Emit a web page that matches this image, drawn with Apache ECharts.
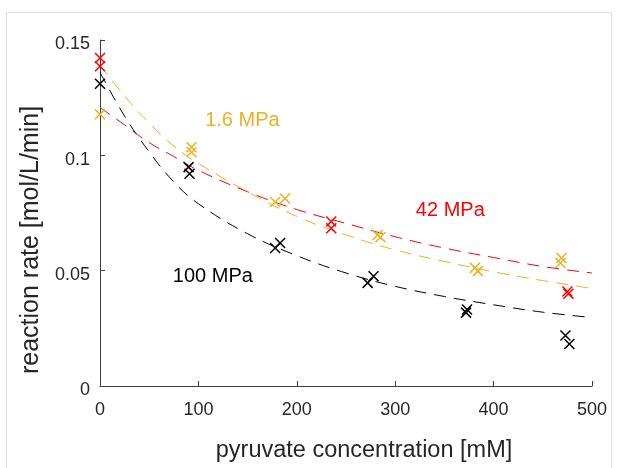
<!DOCTYPE html>
<html>
<head>
<meta charset="utf-8">
<script src="https://cdn.jsdelivr.net/npm/echarts@6/dist/echarts.min.js"></script>
<style>
html,body{margin:0;padding:0;background:#fff;}
#chart{width:619px;height:468px;}
</style>
</head>
<body>
<div id="chart"></div>
<script>
// ---- data ----
const seriesNames = ['1.6 MPa', '42 MPa', '100 MPa'];

// measured points [pyruvate mM, rate mol/L/min]
const pts16 = [[0,0.1178],[93,0.1035],[93,0.1013],[178,0.0798],[188,0.0813],[282,0.0655],[285,0.0645],[381,0.0512],[384,0.0498],[469,0.0555],[468,0.0533]];
const pts42 = [[0,0.1422],[0,0.1386],[235,0.0713],[235,0.0684],[475,0.0410],[476,0.0400]];
const pts100 = [[0,0.1310],[90,0.0949],[91,0.0920],[178,0.0598],[183,0.0620],[272,0.0447],[278,0.0476],[372,0.0318],[373,0.0332],[473,0.0219],[477,0.0182]];

// dashed fit curves, read at these x positions
const fitX = [0,25,50,75,100,150,200,250,300,350,400,450,500];
const fit16 = [0.1390,0.1257,0.1140,0.1040,0.0965,0.0842,0.0735,0.0655,0.0590,0.0540,0.0495,0.0457,0.0423];
const fit42 = [0.1207,0.1132,0.1055,0.0995,0.0935,0.0842,0.0765,0.0705,0.0647,0.0598,0.0557,0.0518,0.0490];
const fit100 = [0.1360,0.1170,0.1015,0.0885,0.0790,0.0660,0.0565,0.0490,0.0432,0.0388,0.0352,0.0320,0.0297];

const xTicks = [0,100,200,300,400,500];
const yTicks = [0,0.05,0.1,0.15];

const colors = {'1.6 MPa':'#EDB120','42 MPa':'#FF0000','100 MPa':'#000000'};
// annotation anchors in data coordinates
const annot = [
  {text:'1.6 MPa', at:[144.7,0.1150]},
  {text:'42 MPa', at:[356,0.0762]},
  {text:'100 MPa', at:[114.7,0.0474]}
];

const pair = (xs, ys) => xs.map((x,i)=>[x, ys[i]]);
const FONT = '"Liberation Sans", Arial, Helvetica, sans-serif';
const XSYM = 'path://M0,0L10,10M10,0L0,10';

function scatter(name, data){
  return {name, type:'scatter', data, symbol:XSYM, symbolSize:10, z:3,
    itemStyle:{color:colors[name], borderColor:colors[name], borderWidth:1.5, opacity:1}};
}
function fit(name, ys){
  return {name:name+' fit', type:'line', data:pair(fitX, ys), smooth:0.4, showSymbol:false, z:2,
    lineStyle:{color:colors[name], width:1, type:[12,8]}};
}

const chart = echarts.init(document.getElementById('chart'), null, {renderer:'canvas'});
const axisCol = '#262626';
chart.setOption({
  animation:false,
  backgroundColor:'#fff',
  grid:{left:100, right:27, top:40, bottom:79, containLabel:false},
  xAxis:{type:'value', min:xTicks[0], max:xTicks[xTicks.length-1], interval:100,
    name:'pyruvate concentration [mM]', nameLocation:'middle', nameGap:53,
    nameTextStyle:{fontFamily:FONT, fontSize:23.5, color:axisCol, padding:[0,0,0,36]},
    axisLine:{lineStyle:{color:'#404040', width:1}},
    axisTick:{inside:true, length:5, lineStyle:{color:'#404040'}},
    axisLabel:{fontFamily:FONT, fontSize:18, color:axisCol, margin:15},
    splitLine:{show:false}},
  yAxis:{type:'value', min:yTicks[0], max:yTicks[yTicks.length-1], interval:0.05,
    name:'reaction rate [mol/L/min]', nameLocation:'middle', nameGap:50,
    nameTextStyle:{fontFamily:FONT, fontSize:25, color:axisCol, padding:[0,54,0,0]},
    axisLine:{lineStyle:{color:'#404040', width:1}},
    axisTick:{inside:true, length:5, lineStyle:{color:'#404040'}},
    axisLabel:{fontFamily:FONT, fontSize:18, color:axisCol, margin:10, verticalAlign:'top', lineHeight:9},
    splitLine:{show:false}},
  series:[
    fit('100 MPa', fit100), fit('1.6 MPa', fit16), fit('42 MPa', fit42),
    scatter('100 MPa', pts100), scatter('1.6 MPa', pts16), scatter('42 MPa', pts42)
  ]
});

const g = [{type:'rect', shape:{x:6.5, y:12.5, width:605, height:480}, silent:true, z:-10,
  style:{fill:null, stroke:'#dedede', lineWidth:1}}];
annot.forEach(a=>{
  const p = chart.convertToPixel({gridIndex:0}, a.at);
  g.push({type:'text', x:p[0], y:p[1], z:10,
    style:{text:a.text, fill:colors[a.text], font:'20px '+FONT, textAlign:'center', textVerticalAlign:'middle'}});
});
chart.setOption({graphic:g});
</script>
</body>
</html>
